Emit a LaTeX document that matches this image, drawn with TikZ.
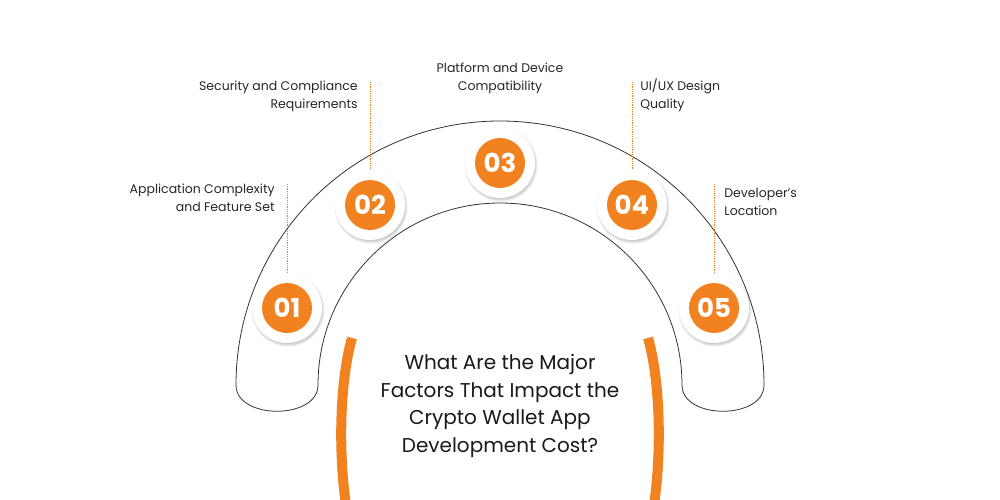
\documentclass[tikz,border=0pt]{standalone}
\usepackage{fontspec}
\setmainfont{Poppins}
\usetikzlibrary{shadows.blur}
\definecolor{worange}{RGB}{242,130,32}
\tikzset{every picture/.style={line width=0.75pt}}
\tikzset{
  numball/.style={circle,fill=white,minimum size=70pt,blur shadow={shadow blur steps=6,shadow xshift=1pt,shadow yshift=-2pt,shadow opacity=25}},
  numdot/.style={circle,fill=worange,minimum size=50pt,text=white,font=\fontsize{26}{26}\selectfont\bfseries,inner sep=0pt},
  lead/.style={worange,densely dotted,line width=0.8pt},
  factor/.style={font=\fontsize{12.5}{18}\selectfont,text=black!85,inner sep=0pt}
}
\begin{document}
\begin{tikzpicture}[x=1pt,y=1pt,yscale=-1]
\useasboundingbox (0,0) rectangle (1000,500);

%Band
\draw [black!80,line width=0.8pt] (236,385) arc (180:360:264) ;
\draw [black!80,line width=0.8pt] (236,385) .. controls (236,420) and (318,420) .. (318,385) arc (180:360:182) .. controls (682,420) and (764,420) .. (764,385) ;

%Orange arc
\draw [worange,line width=10pt] (352,338) .. controls (340,380) and (338,450) .. (346,505) ;
\draw [worange,line width=10pt] (648,338) .. controls (660,380) and (662,450) .. (654,505) ;

% Number balls
\foreach \n/\px/\py in {01/287/308,02/370/205,03/500/163,04/632/205,05/714/308}{
  \node [numball] (b\n) at (\px,\py) {};
  \node [numdot] (n\n) at (b\n) {\n};
}

% Labels
\node [factor,align=right,anchor=south east] (t01) at (275,212) {Application Complexity\\and Feature Set};
\node [factor,align=right,anchor=south east] (t02) at (358,112) {Security and Compliance\\Requirements};
\node [factor,align=center,anchor=south] (t03) at (500,94) {Platform and Device\\Compatibility};
\node [factor,align=left,anchor=south west] (t04) at (640,112) {UI/UX Design\\Quality};
\node [factor,align=left,anchor=south west] (t05) at (724,216) {Developer's\\Location};

\coordinate (c01) at (287,184);
\coordinate (c02) at (370,82);
\coordinate (c04) at (632,82);
\coordinate (c05) at (714,184);
\draw [lead] (c01) -- (b01.north);
\draw [lead] (c02) -- (b02.north);
\draw [lead] (c04) -- (b04.north);
\draw [lead] (c05) -- (b05.north);

% Title
\node [font=\fontsize{20}{27.5}\selectfont,align=center,text=black!90] (title) at (500,406) {What Are the Major\\Factors That Impact the\\Crypto Wallet App\\Development Cost?};
\end{tikzpicture}
\end{document}
